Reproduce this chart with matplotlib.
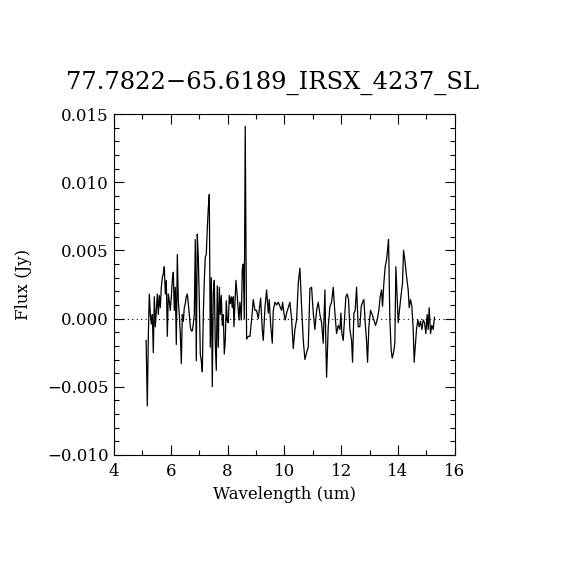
import matplotlib
matplotlib.use("Agg")
import matplotlib.pyplot as plt
from matplotlib.ticker import MultipleLocator

plt.rcParams['font.family'] = ['DejaVu Serif']
plt.rcParams['axes.unicode_minus'] = True

# IRS SL spectrum
wavelength = [
    5.13, 5.15, 5.173, 5.208, 5.243, 5.279, 5.314, 5.349, 5.384, 5.419,
    5.455, 5.49, 5.525, 5.56, 5.595, 5.63, 5.666, 5.701, 5.736, 5.771,
    5.806, 5.842, 5.877, 5.912, 5.947, 5.982, 6.018, 6.053, 6.088, 6.123,
    6.158, 6.194, 6.229, 6.264, 6.299, 6.334, 6.37, 6.405, 6.44, 6.475,
    6.51, 6.545, 6.581, 6.616, 6.651, 6.686, 6.721, 6.757, 6.792, 6.827,
    6.862, 6.897, 6.933, 6.968, 7.003, 7.038, 7.073, 7.109, 7.144, 7.179,
    7.214, 7.249, 7.284, 7.32, 7.355, 7.39, 7.425, 7.46, 7.496, 7.531,
    7.566, 7.601, 7.636, 7.672, 7.707, 7.742, 7.777, 7.812, 7.848, 7.883,
    7.918, 7.953, 7.988, 8.023, 8.059, 8.094, 8.129, 8.164, 8.199,
    8.223, 8.293, 8.34, 8.399, 8.434, 8.481, 8.516, 8.551, 8.586, 8.62,
    8.668, 8.727, 8.786, 8.844, 8.903, 8.962, 9.02, 9.079, 9.161, 9.22,
    9.255, 9.314, 9.372, 9.431, 9.466, 9.513, 9.572, 9.607, 9.666, 9.724,
    9.783, 9.842, 9.9, 9.935, 9.982, 10.029, 10.076, 10.135, 10.193, 10.252,
    10.311, 10.369, 10.428, 10.487, 10.545, 10.604, 10.663, 10.721, 10.78, 10.839,
    10.897, 10.956, 11.015, 11.073, 11.132, 11.191, 11.249, 11.308, 11.366, 11.425,
    11.46, 11.484, 11.542, 11.601, 11.66, 11.718, 11.777, 11.836, 11.894, 11.953,
    11.987, 12.022, 12.069, 12.128, 12.163, 12.21, 12.257, 12.304, 12.363, 12.398,
    12.445, 12.492, 12.539, 12.597, 12.656, 12.703, 12.75, 12.797, 12.844, 12.89,
    12.926, 12.973, 13.031, 13.09, 13.149, 13.207, 13.266, 13.324, 13.371, 13.418,
    13.454, 13.5, 13.547, 13.594, 13.629, 13.665, 13.712, 13.758, 13.794, 13.841,
    13.887, 13.923, 13.97, 14.005, 14.04, 14.099, 14.157, 14.193, 14.24, 14.298,
    14.357, 14.392, 14.439, 14.486, 14.533, 14.568, 14.603, 14.65, 14.697, 14.744,
    14.791, 14.838, 14.885, 14.932, 14.979, 15.025, 15.061, 15.096, 15.143, 15.19,
    15.237, 15.283,
]
flux = [
    -0.0016, -0.0039, -0.0064, -0.0013, 0.0018, 0.0003, -0.0004, 0.0003, -0.0025, 0.0016,
    -0.0006, 0.0006, 0.0018, 0.0003, 0.0017, 0.0008, 0.0023, 0.0030, 0.0033, 0.0038,
    0.0018, 0.0028, -0.0013, 0.0018, 0.0013, 0.0006, 0.0016, 0.0028, 0.0034, 0.0006,
    0.0023, -0.0019, 0.0047, 0.0013, 0.0003, -0.0011, -0.0033, 0.0003, -0.0002, 0.0008,
    0.0011, 0.0016, 0.0018, 0.0011, 0.0003, -0.0006, -0.0009, -0.0009, -0.0004, 0.0003,
    0.0058, -0.0031, 0.0062, 0.0045, 0.0013, -0.0026, -0.0031, -0.0039, 0.0003, 0.0028,
    0.0045, 0.0047, 0.0066, 0.0081, 0.0091, -0.0021, 0.0030, -0.0050, 0.0020, 0.0028,
    -0.0019, -0.0038, 0.0024, -0.0021, 0.0023, 0.0003, 0.0017, -0.0005, 0.0003, -0.0026,
    -0.0016, 0.0013, -0.0002, -0.0003, 0.0017, 0.0011, 0.0016, 0.0008, 0.0016,
    -0.0006, 0.0028, 0.0016, -0.0001, 0.0012, -0.0001, 0.0036, 0.0040, 0.0000, 0.0141,
    -0.0015, -0.0013, -0.0013, -0.0001, 0.0014, 0.0006, 0.0006, 0.0000, 0.0015, -0.0008,
    -0.0016, 0.0008, 0.0021, 0.0004, 0.0014, -0.0004, -0.0018, 0.0006, 0.0012, 0.0010,
    0.0012, 0.0009, 0.0006, 0.0012, 0.0004, -0.0001, 0.0004, 0.0008, 0.0012, 0.0000,
    -0.0022, -0.0008, -0.0001, 0.0026, 0.0037, 0.0009, -0.0016, -0.0030, -0.0025, -0.0021,
    0.0022, 0.0023, 0.0004, -0.0008, 0.0006, 0.0012, 0.0003, -0.0003, -0.0018, 0.0021,
    -0.0021, -0.0043, -0.0006, 0.0009, 0.0012, 0.0023, 0.0004, -0.0011, -0.0005, -0.0008,
    0.0004, -0.0011, -0.0016, 0.0004, 0.0016, 0.0018, 0.0014, -0.0008, -0.0016, -0.0032,
    0.0004, 0.0006, 0.0023, -0.0006, -0.0006, 0.0009, 0.0012, 0.0014, -0.0003, -0.0016,
    -0.0032, -0.0006, 0.0006, 0.0003, -0.0001, -0.0005, -0.0001, 0.0006, 0.0016, 0.0021,
    0.0009, 0.0026, 0.0038, 0.0043, 0.0050, 0.0058, -0.0001, -0.0023, -0.0029, -0.0025,
    -0.0018, 0.0038, 0.0014, -0.0003, 0.0004, 0.0016, 0.0026, 0.0050, 0.0043, 0.0031,
    0.0021, 0.0008, 0.0014, 0.0009, -0.0008, -0.0032, -0.0021, -0.0008, -0.0001, -0.0006,
    -0.0002, -0.0008, -0.0001, -0.0003, -0.0011, 0.0003, -0.0008, 0.0008, -0.0011, -0.0005,
    -0.0008, 0.0001,
]

title = "77.7822\u221265.6189_IRSX_4237_SL"

fig = plt.figure(figsize=(5.7, 5.7), dpi=100)
ax = fig.add_axes([0.2, 0.2018, 0.598, 0.5982])

ax.plot(wavelength, flux, color="black", linewidth=0.9)
ax.axhline(0, color="black", linestyle=(0, (1, 3)), linewidth=0.8)

ax.set_xlim(4, 16)
ax.set_ylim(-0.010, 0.015)
ax.xaxis.set_major_locator(MultipleLocator(2))
ax.xaxis.set_minor_locator(MultipleLocator(1))
ax.yaxis.set_major_locator(MultipleLocator(0.005))
ax.yaxis.set_minor_locator(MultipleLocator(0.001))
# use the long minus sign on tick labels
ax.yaxis.set_major_formatter(lambda v, pos: f"{v:.3f}".replace("-", "\u2212"))

ax.tick_params(which="both", direction="in", top=True, right=True,
               labelsize=12, width=0.8, color="black")
ax.tick_params(which="major", length=7.2)
ax.tick_params(which="minor", length=3.6)
ax.tick_params(axis="x", which="major", pad=6)
ax.tick_params(axis="y", which="major", pad=4)
for s in ax.spines.values():
    s.set_linewidth(0.8)

ax.set_xlabel("Wavelength (um)", fontsize=12, labelpad=4)
ax.set_ylabel("Flux (Jy)", fontsize=12, labelpad=11)
fig.text(0.478, 0.855, title, ha="center", va="center", fontsize=17.5)

fig.savefig("out.png", dpi=100)
